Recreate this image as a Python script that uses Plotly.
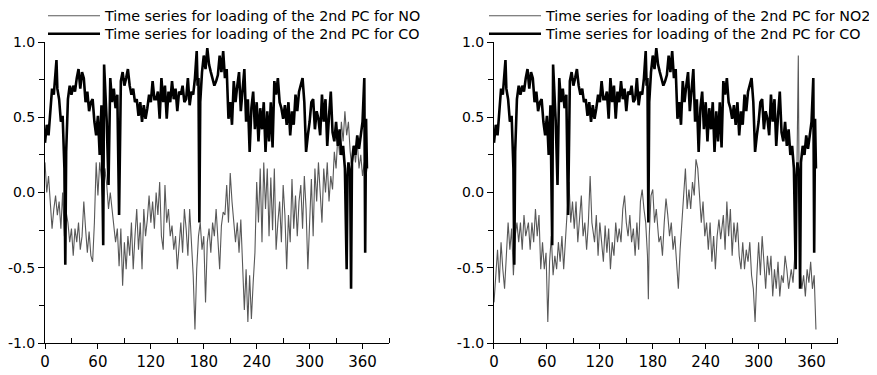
import plotly.graph_objects as go

# ---- data (day, loading) ----
co_pts = [(0,.33),(2,.45),(4,.38),(6,.56),(8,.69),(10,.65),(12,.85),(13,.88),(14,.69),(16,.62),(18,.47),(20,.51),(22,.16),(23,-.48),(24,.27),(26,.62),(28,.71),(30,.65),(32,.71),(34,.67),(36,.76),(38,.82),(40,.69),(42,.80),(44,.76),(46,.60),(48,.67),(50,.54),(52,.60),(54,.62),(56,.47),(58,.38),(60,.51),(62,.25),(64,.58),(66,-.35),(67,.85),(68,.71),(70,.47),(72,.05),(73,.60),(74,.76),(76,.60),(78,.69),(80,.56),(82,.65),(84,-.15),(85,.60),(86,.74),(88,.80),(90,.71),(92,.76),(94,.82),(96,.71),(98,.65),(100,.69),(102,.60),(104,.62),(106,.51),(108,.60),(110,.47),(112,.58),(114,.49),(116,.56),(118,.65),(120,.60),(122,.74),(124,.62),(126,.62),(128,.67),(130,.49),(132,.76),(134,.60),(136,.71),(138,.49),(140,.67),(142,.60),(144,.74),(146,.62),(148,.69),(150,.54),(152,.67),(154,.65),(156,.71),(158,.60),(160,.62),(162,.76),(164,.58),(166,.67),(168,.65),(170,.76),(172,.94),(173,.71),(174,.76),(175,-.20),(176,.60),(178,.80),(180,.91),(182,.82),(184,.96),(186,.85),(188,.80),(190,.76),(192,.71),(194,.74),(196,.78),(198,.91),(200,.80),(202,.94),(204,.76),(206,.82),(208,.49),(210,.60),(212,.45),(214,.74),(216,.60),(218,.71),(220,.80),(222,.54),(224,.67),(226,.82),(228,.47),(230,.62),(232,.27),(234,.56),(236,.67),(238,.42),(240,.60),(242,.34),(244,.56),(246,.42),(248,.60),(250,.27),(252,.54),(254,.34),(256,.60),(258,.30),(260,.74),(262,.65),(264,.76),(266,.60),(268,.56),(270,.49),(272,.58),(274,.45),(276,.60),(278,.38),(280,.54),(282,.45),(284,.65),(286,.54),(288,.67),(290,.71),(292,.76),(294,.60),(296,.27),(298,.38),(300,.47),(302,.60),(304,.62),(306,.42),(308,.54),(310,.49),(312,.38),(314,.65),(316,.47),(318,.62),(320,.31),(322,.51),(324,.67),(326,.40),(328,.34),(330,.47),(332,.31),(334,.42),(336,.25),(338,.31),(340,.16),(342,-.51),(343,.11),(344,.20),(346,.11),(347,-.64),(348,.20),(350,.31),(352,.25),(354,.38),(356,.29),(358,.38),(360,.47),(362,.76),(363,-.40),(364,.49),(365,.16)]

no_pts = [(0,.20),(2,0),(4,.11),(6,-.06),(8,-.24),(10,-.11),(12,-.02),(14,-.15),(16,-.06),(18,-.24),(20,0),(22,-.29),(24,-.13),(26,-.20),(28,-.33),(30,-.24),(32,-.42),(34,-.24),(36,-.33),(38,-.20),(40,-.38),(42,-.29),(44,-.06),(46,-.24),(48,-.40),(50,-.26),(52,-.42),(54,-.46),(56,-.20),(58,.20),(60,-.02),(62,.20),(64,.09),(66,-.11),(68,.16),(70,.05),(72,-.11),(74,0),(76,-.11),(78,-.20),(80,-.33),(82,-.24),(84,-.49),(86,-.24),(88,-.62),(90,-.33),(92,-.51),(94,-.29),(96,-.42),(98,-.20),(100,-.51),(102,-.29),(104,-.11),(106,-.38),(108,-.20),(110,-.51),(112,-.11),(114,-.29),(116,-.18),(118,-.02),(120,-.20),(122,-.06),(124,-.24),(126,0),(128,-.15),(130,.07),(132,-.29),(134,-.38),(136,.05),(138,-.20),(140,-.11),(142,-.29),(144,-.22),(146,-.38),(148,-.29),(150,-.51),(152,-.33),(154,-.20),(156,-.40),(158,-.11),(160,-.24),(162,-.42),(164,-.11),(166,-.33),(168,-.55),(170,-.91),(172,-.51),(174,-.29),(176,-.20),(178,-.38),(180,-.29),(182,-.73),(184,-.33),(186,-.24),(188,-.40),(190,-.20),(192,-.29),(194,-.11),(196,-.33),(198,-.51),(200,-.22),(202,-.13),(204,-.15),(206,.05),(208,-.20),(210,.13),(212,-.06),(214,-.20),(216,-.33),(218,-.20),(220,-.40),(222,-.18),(224,-.51),(226,-.78),(228,-.51),(230,-.86),(232,-.55),(234,-.84),(236,-.60),(238,-.40),(240,.07),(242,-.20),(244,.16),(246,-.33),(248,.20),(250,-.11),(252,.16),(254,-.29),(256,.10),(258,-.25),(260,.16),(262,-.38),(264,-.20),(266,-.06),(268,-.33),(270,.05),(272,-.15),(274,-.51),(276,-.15),(278,-.33),(280,.09),(282,-.24),(284,-.02),(286,-.29),(288,-.06),(290,.05),(292,-.24),(294,.11),(296,-.11),(298,-.51),(300,-.20),(302,.09),(304,-.29),(306,.16),(308,-.06),(310,.20),(312,0),(314,-.20),(316,.16),(318,0),(320,.20),(322,-.06),(324,.11),(326,.02),(328,.27),(330,.16),(332,.38),(334,.25),(336,.47),(338,.34),(340,.54),(342,.38),(344,.47),(346,.27),(348,.16),(350,.31),(352,.20),(354,.34),(356,.16),(358,.25),(360,.11),(362,.20),(364,.11),(365,.16)]

no2_pts = [(0,-.73),(2,-.55),(4,-.38),(6,-.60),(8,-.33),(10,-.51),(12,-.64),(14,-.42),(16,-.20),(18,-.38),(20,-.24),(22,-.55),(24,-.29),(26,-.20),(28,-.33),(30,-.20),(32,-.38),(34,-.15),(36,-.29),(39,-.20),(41,-.38),(43,-.20),(45,-.33),(47,-.11),(49,-.29),(51,-.15),(53,-.51),(55,-.33),(57,-.51),(59,-.40),(61,-.86),(63,-.46),(65,-.29),(67,-.55),(69,-.42),(71,-.51),(73,-.33),(75,-.46),(77,-.29),(79,-.51),(81,-.33),(83,-.11),(85,.07),(87,-.20),(89,-.06),(91,-.24),(93,-.06),(95,-.33),(97,-.15),(99,-.02),(101,-.29),(103,-.20),(105,-.38),(107,-.20),(109,.11),(111,-.20),(114,-.33),(116,-.15),(118,-.42),(120,-.20),(122,-.33),(124,-.46),(126,-.22),(128,-.40),(130,-.24),(132,-.51),(134,-.33),(136,-.42),(138,-.20),(140,-.33),(142,-.24),(144,-.33),(146,-.11),(148,-.02),(150,-.20),(152,-.29),(154,-.15),(156,-.33),(158,-.24),(160,-.42),(162,-.20),(164,-.38),(166,-.06),(168,.02),(170,-.11),(172,-.20),(174,-.42),(175,-.71),(176,-.29),(178,-.02),(180,.02),(182,-.20),(184,-.11),(187,-.33),(189,-.29),(191,-.42),(193,-.20),(195,-.04),(197,-.15),(199,-.29),(201,-.20),(203,-.38),(205,-.29),(207,-.46),(209,-.64),(211,-.38),(213,-.20),(215,-.06),(217,.16),(219,-.11),(221,.02),(223,-.11),(225,.07),(227,-.02),(229,.22),(231,.16),(233,0),(235,-.20),(237,-.06),(239,-.29),(241,-.20),(243,-.38),(245,-.20),(247,-.46),(249,-.29),(251,-.51),(253,-.29),(255,-.18),(257,-.31),(260,-.15),(262,-.38),(264,-.06),(266,-.29),(268,-.11),(270,-.42),(272,-.20),(274,-.33),(276,-.20),(278,-.42),(280,-.51),(282,-.33),(284,-.51),(286,-.38),(288,-.46),(290,-.33),(292,-.55),(294,-.64),(296,-.86),(298,-.55),(300,-.33),(302,-.55),(304,-.29),(306,-.46),(308,-.64),(310,-.42),(312,-.55),(314,-.42),(316,-.69),(318,-.51),(320,-.64),(322,-.46),(324,-.69),(326,-.55),(328,-.60),(330,-.42),(332,-.51),(334,-.64),(337,-.51),(339,-.60),(341,-.42),(343,-.06),(345,.91),(346,-.06),(347,-.51),(349,-.64),(351,-.55),(353,-.69),(355,-.51),(357,-.60),(359,-.46),(361,-.64),(363,-.55),(365,-.91)]

x_tick_vals = [0, 60, 120, 180, 240, 300, 360]
x_tick_text = ["0", "60", "120", "180", "240", "300", "360"]
x_minor_vals = [30, 90, 150, 210, 270, 330, 390]
y_tick_vals = [-1.0, -0.5, 0.0, 0.5, 1.0]
y_tick_text = ["-1.0", "-0.5", "0.0", "0.5", "1.0"]
y_minor_vals = [-0.75, -0.25, 0.25, 0.75]

label_no = "Time series for loading of the 2nd PC for NO"
label_no2 = "Time series for loading of the 2nd PC for NO2"
label_co = "Time series for loading of the 2nd PC for CO"

def split(pts):
    return [p[0] for p in pts], [p[1] for p in pts]

co_x, co_y = split(co_pts)
no_x, no_y = split(no_pts)
no2_x, no2_y = split(no2_pts)

# page body has an 8px default margin, so the figure is 8px smaller
W, H = 869, 367
ML, MR, MT, MB = 37, 39, 34, 32
PH = H - MT - MB

GREY = "#585858"
fig = go.Figure()
fig.add_trace(go.Scatter(x=no_x, y=no_y, mode="lines", name=label_no,
                         line=dict(color=GREY, width=1.1), xaxis="x", yaxis="y", legend="legend"))
fig.add_trace(go.Scatter(x=co_x, y=co_y, mode="lines", name=label_co,
                         line=dict(color="black", width=2.6), xaxis="x", yaxis="y", legend="legend2"))
fig.add_trace(go.Scatter(x=no2_x, y=no2_y, mode="lines", name=label_no2,
                         line=dict(color=GREY, width=1.1), xaxis="x2", yaxis="y2", legend="legend3"))
fig.add_trace(go.Scatter(x=co_x, y=co_y, mode="lines", name=label_co,
                         line=dict(color="black", width=2.6), xaxis="x2", yaxis="y2", legend="legend4"))

x_font = dict(family="DejaVu Sans", size=15, color="black")
y_font = dict(family="DejaVu Sans", size=14, color="black")

def xax(domain, anchor):
    return dict(domain=domain, anchor=anchor, range=[0, 390], showgrid=False, zeroline=False,
                showline=True, linecolor="black", linewidth=1, automargin=False,
                tickmode="array", tickvals=x_tick_vals, ticktext=x_tick_text,
                ticks="outside", ticklen=5, tickcolor="black", tickwidth=1, tickfont=x_font,
                minor=dict(tickmode="array", tickvals=x_minor_vals, ticks="inside", ticklen=5,
                           tickcolor="black", tickwidth=1, showgrid=False))

def yax(anchor):
    return dict(domain=[0, 1], anchor=anchor, range=[-1, 1], showgrid=False, zeroline=False,
                showline=True, linecolor="black", linewidth=1, automargin=False,
                tickmode="array", tickvals=y_tick_vals, ticktext=y_tick_text,
                ticks="outside", ticklen=6, tickcolor="black", tickwidth=1, tickfont=y_font,
                minor=dict(tickmode="array", tickvals=y_minor_vals, ticks="outside", ticklen=5,
                           tickcolor="black", tickwidth=1, showgrid=False))

legend_font = dict(family="DejaVu Sans", size=14.3, color="black")

def leg(x_px, top_px):
    # x in container pixels, top in figure pixels (may be above the plot area)
    return dict(xref="container", yref="paper", x=x_px / W, y=1 + (MT - top_px) / PH,
                xanchor="left", yanchor="top", font=legend_font,
                bgcolor="rgba(0,0,0,0)", itemwidth=52)

fig.update_layout(
    width=W, height=H,
    margin=dict(l=ML, r=MR, t=MT, b=MB, autoexpand=False),
    paper_bgcolor="white", plot_bgcolor="white",
    showlegend=True,
    xaxis=xax([0, 0.4338], "y"),
    yaxis=yax("x"),
    xaxis2=xax([0.5662, 1], "y2"),
    yaxis2=yax("x2"),
    legend=leg(35, -8),
    legend2=leg(35, 10),
    legend3=leg(476, -8),
    legend4=leg(476, 10),
)

fig.write_html("out.html")
